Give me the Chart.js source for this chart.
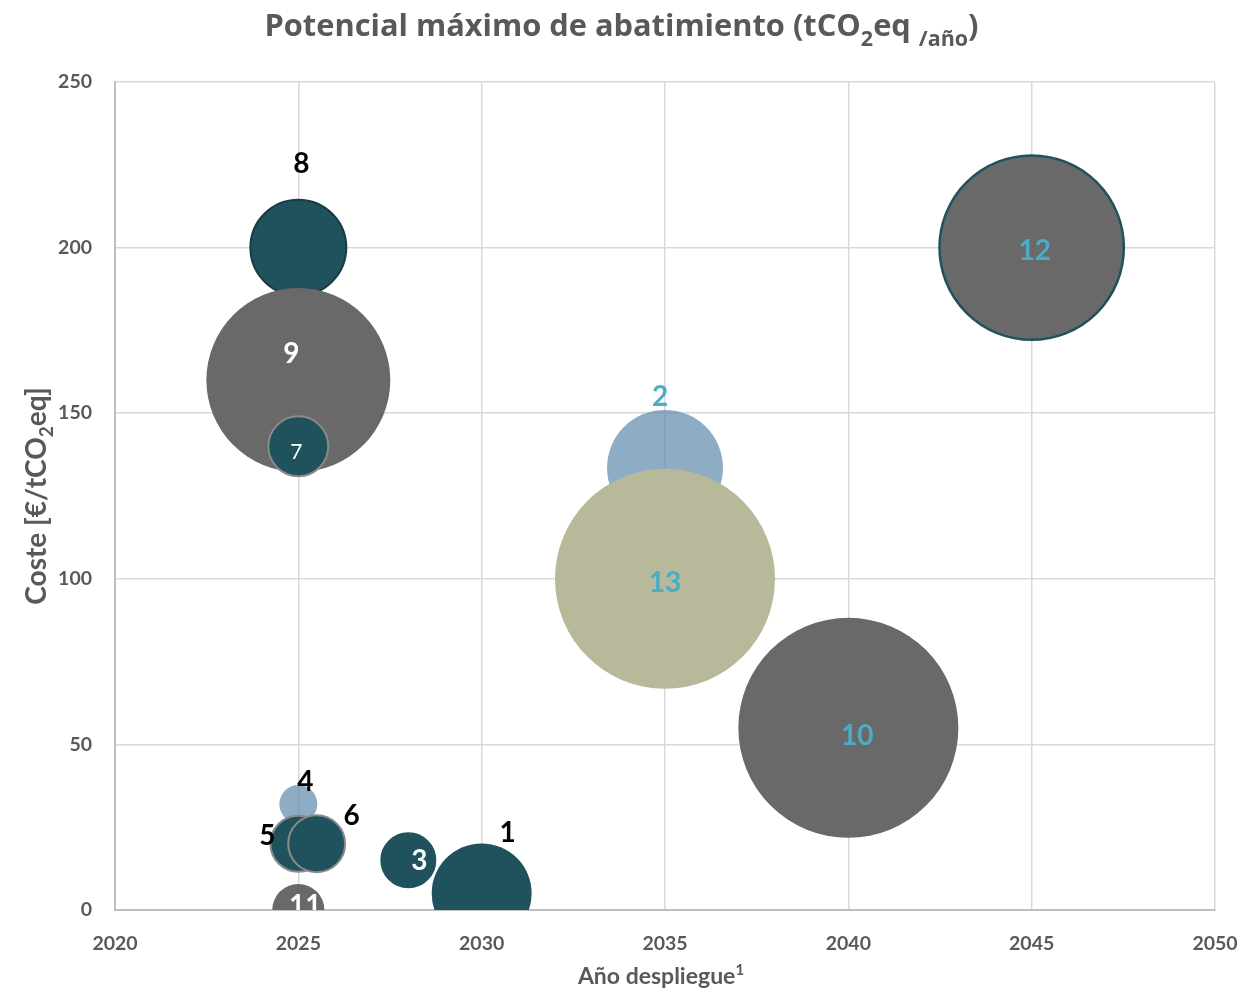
<!DOCTYPE html>
<html>
<head>
<meta charset="utf-8">
<script src="https://cdn.jsdelivr.net/npm/chart.js@4"></script>
<style>
  html, body { margin: 0; padding: 0; background: #ffffff; }
  #wrap { width: 1243px; height: 993px; position: relative; }
</style>
</head>
<body>
<div id="wrap"><canvas id="c" width="1243" height="993"></canvas></div>
<script>
// Medidas de descarbonización (listadas en orden de dibujo: las últimas quedan encima)
const medidas    = ['1', '2', '3', '4', '5', '6', '8', '9', '7', '10', '11', '12', '13'];
// Año de despliegue
const anio       = [2030, 2035, 2028, 2025, 2025, 2025.5, 2025, 2025, 2025, 2040, 2025, 2045, 2035];
// Coste [€/tCO2eq]
const coste      = [5, 133.5, 15, 32, 20, 20, 200, 160, 140, 55, 0, 200, 100];
// Potencial máximo de abatimiento (tamaño relativo de la burbuja, proporcional al área)
const potencial  = [25, 33.6, 8.4, 3.6, 7.8, 8.1, 23, 84.6, 9, 121, 6.8, 85, 121];
// Marcas de los ejes
const ticksAnio  = [2020, 2025, 2030, 2035, 2040, 2045, 2050];
const ticksCoste = [0, 50, 100, 150, 200, 250];

// ---- estilos ----
const FONT = 'Lato, "Open Sans", sans-serif';
const FONT_TITULO = '"Open Sans", Lato, sans-serif';
const TXT = '#595959';
const TEAL = '#20525E', GREY = '#696969', SKY = 'rgba(94,138,173,0.7)', SAND = '#B8B99A';
const BLUE_LBL = '#4BACC6';

const relleno = { '1': TEAL, '2': SKY, '3': TEAL, '4': SKY, '5': TEAL, '6': TEAL, '7': TEAL,
                  '8': TEAL, '9': GREY, '10': GREY, '11': GREY, '12': GREY, '13': SAND };
const borde = { '3': ['#FFFFFF', 2], '5': ['#8A8A8A', 2], '6': ['#8A8A8A', 2], '7': ['#8A8A8A', 2],
                '8': ['#163C46', 2], '12': ['#1F5260', 2.5] };
// etiqueta de cada burbuja: color, peso, tamaño y desplazamiento respecto al centro
const etiqueta = {
  '1':  { c: '#000000', w: 'bold', s: 28, dx: 26, dy: -62 },
  '2':  { c: BLUE_LBL,  w: 'bold', s: 28, dx: -5, dy: -72 },
  '3':  { c: '#FFFFFF', w: 'bold', s: 28, dx: 11, dy: 0 },
  '4':  { c: '#000000', w: 'bold', s: 28, dx: 7,  dy: -23 },
  '5':  { c: '#000000', w: 'bold', s: 28, dx: -31, dy: -9 },
  '6':  { c: '#000000', w: 'bold', s: 28, dx: 35, dy: -29 },
  '7':  { c: '#FFFFFF', w: 'normal', s: 21, dx: -2, dy: 5 },
  '8':  { c: '#000000', w: 'bold', s: 28, dx: 3,  dy: -85 },
  '9':  { c: '#FFFFFF', w: 'bold', s: 28, dx: -7, dy: -27 },
  '10': { c: BLUE_LBL,  w: 'bold', s: 28, dx: 9,  dy: 7 },
  '11': { c: '#FFFFFF', w: 'bold', s: 28, dx: 7,  dy: -5 },
  '12': { c: BLUE_LBL,  w: 'bold', s: 28, dx: 3,  dy: 2 },
  '13': { c: BLUE_LBL,  w: 'bold', s: 28, dx: 0,  dy: 3 }
};

const puntos = medidas.map((m, i) => ({ x: anio[i], y: coste[i], r: 10 * Math.sqrt(potencial[i]), m }));

// Texto con subíndices / superíndices
function anchoRico(ctx, partes, fam) {
  let w = 0;
  partes.forEach(p => { ctx.font = 'bold ' + p.s + 'px ' + fam; p.w = ctx.measureText(p.t).width; w += p.w; });
  return w;
}
function dibujaRico(ctx, partes, cx, base, fam) {
  const w = anchoRico(ctx, partes, fam);
  let x = cx - w / 2;
  ctx.textAlign = 'left';
  ctx.textBaseline = 'alphabetic';
  partes.forEach(p => {
    ctx.font = 'bold ' + p.s + 'px ' + fam;
    ctx.fillText(p.t, x, base + (p.dy || 0));
    x += p.w;
  });
}

const titulos = {
  id: 'titulos',
  afterDraw(chart) {
    const ctx = chart.ctx;
    const a = chart.chartArea;
    ctx.save();
    ctx.fillStyle = TXT;
    dibujaRico(ctx, [
      { t: 'Potencial máximo de abatimiento (tCO', s: 30.8 },
      { t: '2', s: 21.5, dy: 10 },
      { t: 'eq ', s: 30.8 },
      { t: '/año', s: 21.5, dy: 10 },
      { t: ')', s: 30.8 }
    ], 621.5, 36, FONT_TITULO);
    dibujaRico(ctx, [
      { t: 'Año despliegue', s: 23 },
      { t: '1', s: 15, dy: -9 }
    ], (a.left + a.right) / 2 - 4, 984, FONT);
    ctx.translate(46, (a.top + a.bottom) / 2);
    ctx.rotate(-Math.PI / 2);
    dibujaRico(ctx, [
      { t: 'Coste [€/tCO', s: 28 },
      { t: '2', s: 19, dy: 7 },
      { t: 'eq]', s: 28 }
    ], 0, 0, FONT);
    ctx.restore();
  }
};

const etiquetas = {
  id: 'etiquetas',
  afterDatasetsDraw(chart) {
    const ctx = chart.ctx;
    const a = chart.chartArea;
    const meta = chart.getDatasetMeta(0);
    ctx.save();
    ctx.beginPath();
    ctx.rect(a.left, a.top, a.right - a.left, a.bottom - a.top);
    ctx.clip();
    ctx.textAlign = 'center';
    ctx.textBaseline = 'alphabetic';
    meta.data.forEach((el, i) => {
      const e = etiqueta[medidas[i]];
      ctx.font = e.w + ' ' + e.s + 'px ' + FONT;
      ctx.fillStyle = e.c;
      ctx.fillText(medidas[i], el.x + e.dx, el.y + e.dy + 0.36 * e.s);
    });
    ctx.restore();
  }
};

new Chart(document.getElementById('c'), {
  type: 'bubble',
  data: {
    datasets: [{
      data: puntos,
      clip: 0,
      backgroundColor: c => relleno[medidas[c.dataIndex]],
      borderColor: c => (borde[medidas[c.dataIndex]] || ['rgba(0,0,0,0)'])[0],
      borderWidth: c => (borde[medidas[c.dataIndex]] || [null, 0])[1],
      hoverBorderWidth: c => (borde[medidas[c.dataIndex]] || [null, 0])[1]
    }]
  },
  options: {
    responsive: false,
    devicePixelRatio: 1,
    animation: false,
    events: [],
    layout: { autoPadding: false, padding: { top: 82, right: 28, left: 0, bottom: 0 } },
    plugins: { legend: { display: false }, tooltip: { enabled: false }, title: { display: false } },
    scales: {
      x: {
        type: 'linear',
        min: ticksAnio[0],
        max: ticksAnio[ticksAnio.length - 1],
        afterBuildTicks: s => { s.ticks = ticksAnio.map(v => ({ value: v })); },
        afterFit: s => { s.height = 83; s.paddingLeft = 0; s.paddingRight = 0; },
        grid: { color: '#D9D9D9', lineWidth: 1.5, drawTicks: false },
        border: { color: '#BFBFBF', width: 2 },
        ticks: {
          padding: 22,
          color: TXT,
          font: { family: FONT, size: 19.5, weight: 'bold' },
          maxRotation: 0,
          callback: v => String(v)
        }
      },
      y: {
        type: 'linear',
        min: ticksCoste[0],
        max: ticksCoste[ticksCoste.length - 1],
        afterBuildTicks: s => { s.ticks = ticksCoste.map(v => ({ value: v })); },
        afterFit: s => { s.width = 115; },
        grid: { color: '#D9D9D9', lineWidth: 1.5, drawTicks: false },
        border: { color: '#BFBFBF', width: 2 },
        ticks: {
          padding: 23,
          color: TXT,
          font: { family: FONT, size: 19.5, weight: 'bold' },
          callback: v => String(v)
        }
      }
    }
  },
  plugins: [etiquetas, titulos]
});
</script>
</body>
</html>
